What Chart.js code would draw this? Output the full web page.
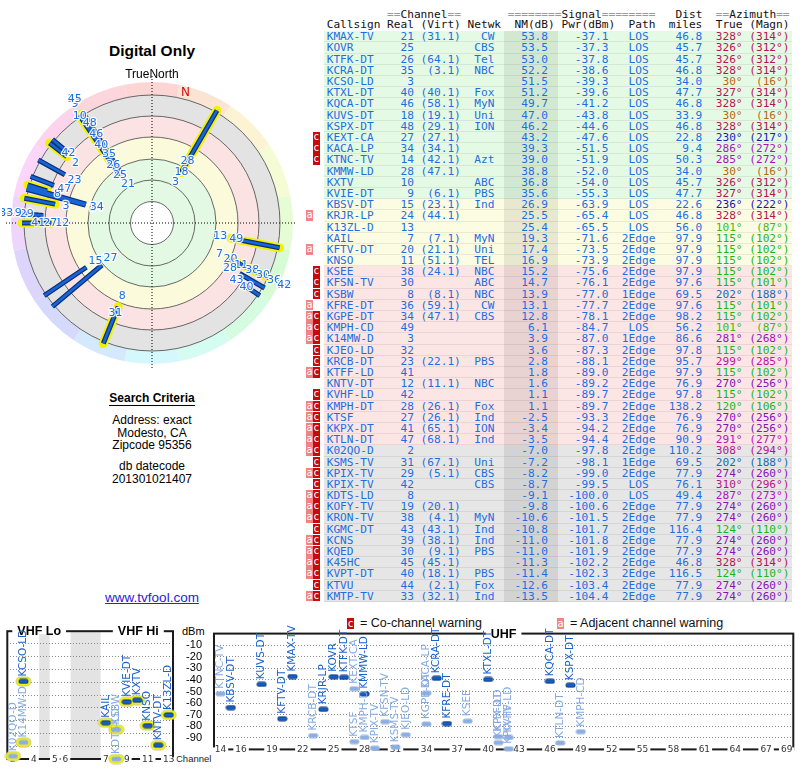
<!DOCTYPE html>
<html>
<head>
<meta charset="utf-8">
<title>TV signal report - Modesto, CA</title>
<script src="https://cdn.jsdelivr.net/npm/chart.js@4.4.1/dist/chart.umd.min.js"></script>
<style>
  body { margin: 0; background: #fff; font-family: "Liberation Sans", Arial, sans-serif; }
  #page { position: relative; width: 800px; height: 768px; overflow: hidden; }
  .abs { position: absolute; }
  .center { text-align: center; width: 300px; left: 2px; }
  #title { top: 42px; font-weight: bold; font-size: 15.5px; line-height: 18px; }
  #tn { top: 67px; font-size: 12px; line-height: 14px; z-index: 2; }
  #polar { position: absolute; left: 2px; top: 73px; }
  #crit { top: 391px; font-size: 12px; line-height: 14px; font-weight: bold; }
  #crit span { border-bottom: 1.5px solid #000; }
  #addr { top: 414px; font-size: 12px; line-height: 12.5px; }
  #db { top: 460px; font-size: 12px; line-height: 13px; }
  #link { top: 590px; font-size: 13.5px; line-height: 15px; color: #2424d8; }
  #link span { text-decoration: underline; }
  .mono { font-family: "DejaVu Sans Mono", monospace; font-size: 11.15px; white-space: pre; }
  .hdr { left: 326.7px; color: #111; line-height: 11.2px; }
  .eq { color: #9a9a9a; }
  .row { position: absolute; left: 324px; width: 468px; height: 11.19px; box-sizing: border-box;
         padding-left: 2.7px; color: #1e6ee0; line-height: 11px; border-bottom: 1px solid rgba(0,0,0,0.07); }
  .badge { position: absolute; top: 0; height: 10.6px; width: 7px; color: #fff; font-size: 10px;
           line-height: 10.6px; text-align: center; }
  .ba { left: -18px; background: #f08484; }
  .bc { left: -11.3px; background: #c70a0a; }
  .legend { top: 616px; font-size: 12.5px; line-height: 15px; color: #111; }
  .legend b { display: inline-block; width: 7px; height: 11px; color: #fff; font-weight: normal;
              font-family: "DejaVu Sans Mono", monospace; font-size: 10px; line-height: 11px;
              text-align: center; margin-right: 6px; vertical-align: 0px; }
  #dbm { left: 182px; top: 625px; font-size: 11px; line-height: 13px; }
  #chan { left: 176px; top: 753px; font-size: 9.5px; line-height: 12px; color: #222; }
  #vhf { position: absolute; left: 0; top: 615px; }
  #uhf { position: absolute; left: 170px; top: 615px; }
</style>
</head>
<body>
<div id="page">
  <div id="title" class="abs center">Digital Only</div>
  <div id="tn" class="abs center">TrueNorth</div>
  <canvas id="polar" width="300" height="300"></canvas>
  <div id="crit" class="abs center"><span>Search Criteria</span></div>
  <div id="addr" class="abs center">Address: exact<br>Modesto, CA<br>Zipcode 95356</div>
  <div id="db" class="abs center">db datecode<br>201301021407</div>
  <div id="link" class="abs center"><span>www.tvfool.com</span></div>

  <div id="table"></div>

  <div class="abs legend" style="left:347px"><b style="background:#c70a0a">c</b>= Co-channel warning</div>
  <div class="abs legend" style="left:557px"><b style="background:#f08484">a</b>= Adjacent channel warning</div>
  <div id="dbm" class="abs">dBm</div>
  <div id="chan" class="abs">Channel</div>
  <canvas id="vhf" width="180" height="153"></canvas>
  <canvas id="uhf" width="630" height="153"></canvas>
</div>
<script>
// station list, strongest first
var callsigns = ['KMAX-TV','KOVR','KTFK-DT','KCRA-DT','KCSO-LD','KTXL-DT','KQCA-DT','KUVS-DT','KSPX-DT',
  'KEXT-CA','KACA-LP','KTNC-TV','KMMW-LD','KXTV','KVIE-DT','KBSV-DT','KRJR-LP','K13ZL-D','KAIL','KFTV-DT',
  'KNSO','KSEE','KFSN-TV','KSBW','KFRE-DT','KGPE-DT','KMPH-CD','K14MW-D','KJEO-LD','KRCB-DT','KTFF-LD',
  'KNTV-DT','KVHF-LD','KMPH-DT','KTSF','KKPX-DT','KTLN-DT','K02QO-D','KSMS-TV','KPIX-TV','KPIX-TV',
  'KDTS-LD','KOFY-TV','KRON-TV','KGMC-DT','KCNS','KQED','K45HC','KVPT-DT','KTVU','KMTP-TV'];
var realCh = [21,25,26,35,3,40,46,18,48,27,34,14,28,10,9,15,24,13,7,20,11,38,30,8,36,34,49,3,32,23,41,
  12,42,28,27,41,47,2,31,29,42,8,19,38,43,39,30,45,40,44,33];
var virtCh = ['31.1','','64.1','3.1','','40.1','58.1','19.1','29.1','27.1','34.1','42.1','47.1','','6.1',
  '23.1','44.1','','7.1','21.1','51.1','24.1','','8.1','59.1','47.1','','','','22.1','','11.1','','26.1',
  '26.1','65.1','68.1','','67.1','5.1','','','20.1','4.1','43.1','38.1','9.1','45.1','18.1','2.1','32.1'];
var networks = ['CW','CBS','Tel','NBC','','Fox','MyN','Uni','ION','','','Azt','','ABC','PBS','Ind','','',
  'MyN','Uni','TEL','NBC','ABC','NBC','CW','CBS','','','','PBS','','NBC','','Fox','Ind','ION','Ind','',
  'Uni','CBS','CBS','','','MyN','Ind','Ind','PBS','','PBS','Fox','Ind'];
var nmDb = [53.8,53.5,53.0,52.2,51.5,51.2,49.7,47.0,46.2,43.2,39.3,39.0,38.8,36.8,35.6,26.9,25.5,25.4,
  19.3,17.4,16.9,15.2,14.7,13.9,13.1,12.8,6.1,3.9,3.6,2.8,1.8,1.6,1.1,1.1,-2.5,-3.4,-3.5,-7.0,-7.2,-8.2,
  -8.7,-9.1,-9.8,-10.6,-10.8,-11.0,-11.0,-11.3,-11.4,-12.6,-13.5];
var pwrDbm = [-37.1,-37.3,-37.8,-38.6,-39.3,-39.6,-41.2,-43.8,-44.6,-47.6,-51.5,-51.9,-52.0,-54.0,-55.3,
  -63.9,-65.4,-65.5,-71.6,-73.5,-73.9,-75.6,-76.1,-77.0,-77.7,-78.1,-84.7,-87.0,-87.3,-88.1,-89.0,-89.2,
  -89.7,-89.7,-93.3,-94.2,-94.4,-97.8,-98.1,-99.0,-99.5,-100.0,-100.6,-101.5,-101.7,-101.8,-101.9,-102.2,
  -102.3,-103.4,-104.4];
var paths = ['LOS','LOS','LOS','LOS','LOS','LOS','LOS','LOS','LOS','LOS','LOS','LOS','LOS','LOS','LOS',
  'LOS','LOS','LOS','2Edge','2Edge','2Edge','2Edge','2Edge','1Edge','2Edge','2Edge','LOS','1Edge','2Edge',
  '2Edge','2Edge','2Edge','2Edge','2Edge','2Edge','2Edge','2Edge','2Edge','1Edge','2Edge','LOS','LOS',
  '2Edge','2Edge','2Edge','2Edge','2Edge','2Edge','2Edge','2Edge','2Edge'];
var distMiles = [46.8,45.7,45.7,46.8,34.0,47.7,46.8,33.9,46.8,22.8,9.4,50.3,34.0,45.7,47.7,22.6,46.8,56.0,
  97.9,97.9,97.9,97.9,97.6,69.5,97.6,98.2,56.2,86.6,97.8,95.7,97.9,76.9,97.8,138.2,76.9,76.9,90.9,110.2,
  69.5,77.9,76.1,49.4,77.9,77.9,116.4,77.9,77.9,46.8,116.5,77.9,77.9];
var azTrue = [328,326,326,328,30,327,328,30,328,230,286,285,30,326,327,236,328,101,115,115,115,115,115,
  202,115,115,101,281,115,299,115,270,115,120,270,270,291,308,202,274,310,287,274,274,124,274,274,328,
  124,274,274];
var azMagn = [314,312,312,314,16,314,314,16,314,217,272,272,16,312,314,222,314,87,102,102,102,102,101,
  188,101,102,87,268,102,285,102,256,102,106,256,256,277,294,188,260,296,273,260,260,110,260,260,314,
  110,260,260];
var warnings = ['','','','','','','','','','c','c','c','','','','','a','','','a','','c','c','c','a','ac',
  'ac','ac','c','c','ac','','c','ac','ac','ac','ac','ac','c','ac','c','ac','ac','ac','c','ac','ac','ac',
  'ac','c','ac'];

// axis ticks
var vhfTicks = [2, 4, 5, 6, 7, 9, 11, 13];
var uhfTicks = [14, 16, 19, 22, 25, 28, 31, 34, 37, 40, 43, 46, 49, 52, 55, 58, 61, 64, 67, 69];

Chart.defaults.font.family = '"DejaVu Sans", sans-serif';

var idx = callsigns.map(function (_, i) { return i; });
function isVhf(i) { return realCh[i] <= 13; }
function coChannel(i) { return warnings[i].indexOf('c') >= 0; }
function hueFor(az) { return (az * 1.03) % 360; }

// ---------- table ----------
function rowColors(nm) {
  if (nm >= 30) return ['#e5fae5', '#d2e8d2'];
  if (nm >= 16) return ['#fcfce3', '#e8e8d0'];
  if (nm >= -5) return ['#fce5e5', '#e8d2d2'];
  return ['#e6e6e6', '#d3d3d3'];
}
var table = document.getElementById('table');
var h1 = ' '.repeat(9) + '==Channel==' + ' '.repeat(7) + '========Signal========' + '   Dist  ==Azimuth==';
var h2 = 'Callsign Real (Virt) Netwk  NM(dB) Pwr(dBm)  Path  miles  True (Magn)';
table.innerHTML += '<div class="abs mono hdr" style="top:8.7px">' + h1.replace(/(=+)/g, '<span class="eq">$1</span>') + '</div>';
table.innerHTML += '<div class="abs mono hdr" style="top:19.4px">' + h2 + '</div>';
idx.forEach(function (i) {
  var virt = virtCh[i] ? '(' + virtCh[i] + ')' : '';
  var path = paths[i] === 'LOS' ? ' LOS ' : paths[i];
  var text = callsigns[i].padEnd(9) + String(realCh[i]).padStart(4) + ' ' + virt.padStart(6) +
    networks[i].padStart(5) + nmDb[i].toFixed(1).padStart(8) + pwrDbm[i].toFixed(1).padStart(9) +
    '  ' + path + distMiles[i].toFixed(1).padStart(7);
  var az = (azTrue[i] + '°').padStart(6) + ('(' + azMagn[i] + '°)').padStart(7);
  var c = rowColors(nmDb[i]);
  var bg = 'linear-gradient(90deg,' + c[0] + ' 180px,' + c[1] + ' 180px,' + c[1] + ' 234px,' + c[0] + ' 234px)';
  var badges = '';
  if (warnings[i].indexOf('a') >= 0) badges += '<span class="badge ba">a</span>';
  if (warnings[i].indexOf('c') >= 0) badges += '<span class="badge bc">c</span>';
  table.innerHTML += '<div class="row mono" style="top:' + (31.3 + i * 11.19).toFixed(2) + 'px;background:' + bg + '">' +
    badges + text + '<span style="color:hsl(' + hueFor(azTrue[i]) + ',80%,40%)">' + az + '</span></div>';
});

// ---------- polar plot ----------
var R_OUT = 130;
function radiusFor(nm) { return 102 - 0.85 * nm; }
function polarXY(az, r) {
  var a = az * Math.PI / 180;
  return { x: r * Math.sin(a), y: r * Math.cos(a) };
}
var allSegs = [], glowSegs = [];
idx.forEach(function (i) {
  var seg = [polarXY(azTrue[i], R_OUT), polarXY(azTrue[i], radiusFor(nmDb[i])), { x: null, y: null }];
  allSegs = allSegs.concat(seg);
  if (isVhf(i)) glowSegs = glowSegs.concat(seg);
});

// channel labels, spread out along each bearing
var polarLabelList = [];
var clusters = [];
idx.slice().sort(function (a, b) { return azTrue[a] - azTrue[b] || nmDb[b] - nmDb[a]; }).forEach(function (i) {
  var last = clusters[clusters.length - 1];
  if (last && azTrue[i] - azTrue[last[0]] <= 4) last.push(i); else clusters.push([i]);
});
clusters.forEach(function (cl) {
  cl.sort(function (a, b) { return nmDb[b] - nmDb[a]; });
  var prev = -Infinity;
  cl.forEach(function (i) {
    var r = Math.min(Math.max(radiusFor(nmDb[i]) - 11, prev + 12), 146);
    prev = r;
    var p = polarXY(azTrue[i], r);
    polarLabelList.push({ x: p.x, y: p.y, text: String(realCh[i]) });
  });
});

var polarBackground = {
  id: 'polarBackground',
  beforeDatasetsDraw: function (chart) {
    var ctx = chart.ctx, x = chart.scales.x, y = chart.scales.y;
    var cx = x.getPixelForValue(0), cy = y.getPixelForValue(0);
    var k = x.getPixelForValue(1) - cx;
    ctx.save();
    for (var w = 0; w < 16; w++) {
      var a0 = (w * 22.5 - 11.25 - 90) * Math.PI / 180, a1 = a0 + 22.5 * Math.PI / 180;
      ctx.beginPath();
      ctx.arc(cx, cy, 141 * k, a0, a1);
      ctx.arc(cx, cy, 128 * k, a1, a0, true);
      ctx.closePath();
      ctx.fillStyle = 'hsl(' + hueFor(w * 22.5) + ',85%,91%)';
      ctx.fill();
    }
    [[128, '#e3e3e3'], [107, '#fce3e3'], [86, '#fbfbdc'], [64, '#e3f9e3'], [21.5, '#ffffff']].forEach(function (b) {
      ctx.beginPath(); ctx.arc(cx, cy, b[0] * k, 0, Math.PI * 2); ctx.fillStyle = b[1]; ctx.fill();
    });
    ctx.strokeStyle = '#444'; ctx.lineWidth = 0.8;
    [21.5, 43, 64, 86, 107, 128].forEach(function (r) {
      ctx.beginPath(); ctx.arc(cx, cy, r * k, 0, Math.PI * 2); ctx.stroke();
    });
    ctx.setLineDash([1, 2]); ctx.strokeStyle = '#000'; ctx.lineWidth = 1;
    ctx.beginPath();
    ctx.moveTo(cx, cy - 147 * k); ctx.lineTo(cx, cy + 145 * k);
    ctx.moveTo(cx - 146 * k, cy); ctx.lineTo(cx + 144 * k, cy);
    ctx.stroke();
    ctx.setLineDash([]);
    var n = polarXY(14.5, 134);
    ctx.fillStyle = '#d01010'; ctx.font = '12px "DejaVu Sans"';
    ctx.textAlign = 'center'; ctx.textBaseline = 'middle';
    ctx.fillText('N', x.getPixelForValue(n.x), y.getPixelForValue(n.y));
    ctx.restore();
  }
};
var polarLabels = {
  id: 'polarLabels',
  afterDatasetsDraw: function (chart) {
    var ctx = chart.ctx, x = chart.scales.x, y = chart.scales.y;
    ctx.save();
    ctx.font = '11px "DejaVu Sans"'; ctx.textAlign = 'center'; ctx.textBaseline = 'middle';
    ctx.lineWidth = 2.5; ctx.strokeStyle = 'rgba(255,255,255,0.9)'; ctx.lineJoin = 'round';
    polarLabelList.forEach(function (l) {
      var px = x.getPixelForValue(l.x), py = y.getPixelForValue(l.y);
      ctx.strokeText(l.text, px, py);
      ctx.fillStyle = '#1a6ee0'; ctx.fillText(l.text, px, py);
    });
    ctx.restore();
  }
};

// Chart.js paints the first dataset on top, so the glow goes last
new Chart(document.getElementById('polar'), {
  type: 'scatter',
  data: {
    datasets: [
      { data: allSegs, showLine: true, borderColor: '#1766d8', borderWidth: 2.6, pointRadius: 0, spanGaps: false },
      { data: allSegs, showLine: true, borderColor: '#0b2e78', borderWidth: 5, pointRadius: 0, spanGaps: false },
      { data: glowSegs, showLine: true, borderColor: '#f2f200', borderWidth: 9, borderCapStyle: 'round', pointRadius: 0, spanGaps: false }
    ]
  },
  options: {
    responsive: false, maintainAspectRatio: false, animation: false, events: [],
    layout: { padding: 0 },
    plugins: { legend: { display: false }, tooltip: { enabled: false } },
    scales: {
      x: { type: 'linear', min: -150, max: 150, display: false },
      y: { type: 'linear', min: -150, max: 150, display: false }
    }
  },
  plugins: [polarBackground, polarLabels]
});

// ---------- spectrum ----------
function vhfPos(ch) { return ch <= 4 ? ch - 3.86 : ch <= 6 ? ch - 2.86 : ch; }

function makeMarker(w, h, fill, edge, rad) {
  var c = document.createElement('canvas');
  c.width = w + 2; c.height = h + 2;
  var g = c.getContext('2d');
  g.beginPath(); g.roundRect(1, 1, w, h, rad);
  g.fillStyle = fill; g.fill();
  g.lineWidth = 1; g.strokeStyle = edge; g.stroke();
  return c;
}
var darkBar = makeMarker(9, 4, '#1560c8', '#0a3478', 1.5);
var lightBar = makeMarker(9, 4, '#88aee6', '#a3b8d6', 1.5);
var glowMark = makeMarker(15, 9, '#f4f400', '#c9c98a', 4.5);
function barStyle(ctx) { return coChannel(ctx.raw.i) ? lightBar : darkBar; }

var shown = idx.filter(function (i) { return pwrDbm[i] >= -100; });
var vhfPoints = shown.filter(isVhf).map(function (i) { return { x: vhfPos(realCh[i]), y: pwrDbm[i], i: i }; });
var uhfPoints = shown.filter(function (i) { return !isVhf(i); }).map(function (i) { return { x: realCh[i], y: pwrDbm[i], i: i }; });

function makeFramePlugin(titles, ticks, bands) {
  return {
    id: 'frame',
    beforeDraw: function (chart) {
      var ctx = chart.ctx, a = chart.chartArea, x = chart.scales.x;
      ctx.save(); ctx.fillStyle = '#e3e3e3';
      bands.forEach(function (b) {
        var p0 = x.getPixelForValue(b[0]), p1 = x.getPixelForValue(b[1]);
        ctx.fillRect(p0, a.top, p1 - p0, a.bottom - a.top);
      });
      ctx.restore();
    },
    beforeDatasetsDraw: function (chart) {
      var ctx = chart.ctx, a = chart.chartArea, x = chart.scales.x;
      ctx.save();
      ctx.strokeStyle = '#1a1a1a'; ctx.lineWidth = 2;
      ctx.strokeRect(a.left, a.top, a.right - a.left, a.bottom - a.top);
      ctx.textAlign = 'center'; ctx.textBaseline = 'middle';
      ctx.font = 'bold 12.5px "Liberation Sans"';
      titles.forEach(function (t) {
        var px = x.getPixelForValue(t.at), w = ctx.measureText(t.text).width;
        ctx.fillStyle = '#fff'; ctx.fillRect(px - w / 2 - 5, a.top - 3, w + 10, 6);
        ctx.fillStyle = '#000'; ctx.fillText(t.text, px, a.top + 0.5);
      });
      ctx.font = '9px "DejaVu Sans"';
      ticks.forEach(function (t) {
        var px = x.getPixelForValue(t.at), label = String(t.label), w = ctx.measureText(label).width;
        ctx.fillStyle = '#fff'; ctx.fillRect(px - w / 2 - 2, a.bottom - 2, w + 4, 4);
        ctx.fillStyle = '#333'; ctx.fillText(label, px, a.bottom + 0.5);
      });
      ctx.restore();
    }
  };
}
function makeNamePlugin(datasetIndex) {
  return {
    id: 'names',
    afterDatasetsDraw: function (chart) {
      var ctx = chart.ctx, ds = chart.data.datasets[datasetIndex], meta = chart.getDatasetMeta(datasetIndex);
      ctx.save();
      ctx.font = '10.5px "DejaVu Sans"'; ctx.textAlign = 'left'; ctx.textBaseline = 'middle';
      meta.data.forEach(function (pt, j) {
        var i = ds.data[j].i;
        ctx.save();
        ctx.translate(pt.x, pt.y - 5);
        ctx.rotate(-Math.PI / 2);
        ctx.fillStyle = coChannel(i) ? '#85aae2' : '#1a62cc';
        ctx.fillText(callsigns[i], 0, 0);
        ctx.restore();
      });
      ctx.restore();
    }
  };
}
function yScale(showLabels) {
  return {
    type: 'linear', min: -100, max: 0,
    afterFit: function (s) { s.width = showLabels ? 44 : 0; },
    grid: { color: '#8a8a8a', lineWidth: 1, drawTicks: false },
    border: { display: false, dash: [1, 2] },
    ticks: {
      display: showLabels, stepSize: 10, padding: 12, color: '#000', autoSkip: false,
      font: { family: '"Liberation Sans"', size: 11 },
      callback: function (v) { return (v === 0 || v === -100) ? '' : v; }
    }
  };
}
function baseOptions(xmin, xmax, pad, showLabels) {
  return {
    responsive: false, maintainAspectRatio: false, animation: false, events: [],
    layout: { padding: pad },
    plugins: { legend: { display: false }, tooltip: { enabled: false } },
    scales: { x: { type: 'linear', min: xmin, max: xmax, display: false }, y: yScale(showLabels) }
  };
}

new Chart(document.getElementById('vhf'), {
  type: 'scatter',
  data: {
    datasets: [
      { data: vhfPoints, pointStyle: barStyle, pointRadius: 5, clip: false },
      { data: vhfPoints, pointStyle: glowMark, pointRadius: 6, clip: false }
    ]
  },
  options: baseOptions(-2.4, 13.41, { left: 7.3, right: 6.7, top: 16.2, bottom: 9 }, false),
  plugins: [
    makeFramePlugin(
      [{ text: 'VHF Lo', at: vhfPos(4) + 0.5 }, { text: 'VHF Hi', at: 10.1 }],
      vhfTicks.map(function (ch) { return { label: ch, at: vhfPos(ch) }; }),
      [[vhfPos(4) + 0.5, vhfPos(5) - 0.5], [vhfPos(6) + 0.5, vhfPos(7) - 0.5]]
    ),
    makeNamePlugin(0)
  ]
});

new Chart(document.getElementById('uhf'), {
  type: 'scatter',
  data: { datasets: [{ data: uhfPoints, pointStyle: barStyle, pointRadius: 5, clip: false }] },
  options: baseOptions(13.37, 69.64, { left: 0, right: 6.7, top: 16.2, bottom: 9 }, true),
  plugins: [
    makeFramePlugin(
      [{ text: 'UHF', at: 41.5 }],
      uhfTicks.map(function (ch) { return { label: ch, at: ch }; }),
      []
    ),
    makeNamePlugin(0)
  ]
});
</script>
</body>
</html>
